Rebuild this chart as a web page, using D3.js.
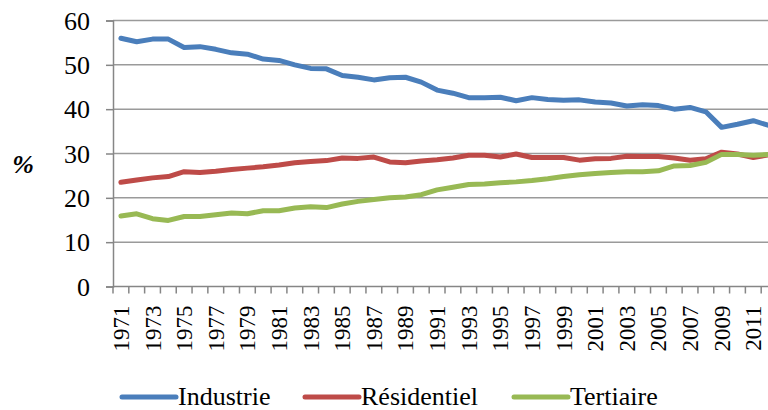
<!DOCTYPE html>
<html><head><meta charset="utf-8">
<script src="https://cdn.jsdelivr.net/npm/d3@7"></script>
</head>
<body style="margin:0">
<script>
const years = d3.range(1971, 2013);
const yTicks = [0, 10, 20, 30, 40, 50, 60];
const seriesNames = ["Industrie", "Résidentiel", "Tertiaire"];
const colors = ["#4A7EBB", "#BE4B48", "#98B954"];
const industrie = [56.0,55.2,55.8,55.8,53.9,54.1,53.5,52.7,52.4,51.3,51.0,50.0,49.2,49.1,47.6,47.2,46.6,47.1,47.2,46.1,44.3,43.6,42.6,42.6,42.7,41.9,42.6,42.2,42.0,42.1,41.6,41.4,40.7,41.0,40.8,40.0,40.4,39.4,35.9,36.6,37.4,36.3];
const residentiel = [23.5,24.0,24.5,24.8,25.9,25.7,26.0,26.4,26.7,27.0,27.4,27.9,28.2,28.4,29.0,28.9,29.2,28.1,27.9,28.3,28.6,29.0,29.6,29.6,29.2,29.9,29.1,29.1,29.1,28.5,28.8,28.9,29.4,29.3,29.3,29.0,28.5,28.8,30.3,29.9,29.1,29.7];
const tertiaire = [15.9,16.4,15.3,14.9,15.8,15.8,16.2,16.6,16.4,17.1,17.1,17.7,18.0,17.8,18.6,19.2,19.6,20.0,20.2,20.7,21.8,22.4,23.0,23.1,23.4,23.6,23.9,24.3,24.8,25.2,25.5,25.7,25.9,25.9,26.1,27.2,27.3,28.0,29.8,29.8,29.6,29.8];
const allSeries = [industrie, residentiel, tertiaire];

const W = 768, H = 410;
const svg = d3.select("body").append("svg").attr("width", W).attr("height", H)
  .style("display", "block");
const ff = () => "'Liberation Serif'";

const x = d3.scaleBand().domain(years).range([113, 777]);
const y = d3.scaleLinear().domain([0, 60]).range([286.5, 20.5]);

// gridlines
svg.append("g").selectAll("line").data(yTicks.filter(t => t > 0)).join("line")
  .attr("x1", 113).attr("x2", W).attr("y1", d => y(d)).attr("y2", d => y(d))
  .attr("stroke", "#9a9a9a").attr("stroke-width", 1.5);

// y axis line and ticks via d3 axis (labels drawn separately)
const yAxis = svg.append("g").attr("transform", "translate(113,0)")
  .call(d3.axisLeft(y).tickValues(yTicks).tickSize(7).tickFormat(""));
yAxis.select(".domain").attr("stroke", "#868686").attr("stroke-width", 1.5);
yAxis.selectAll(".tick line").attr("stroke", "#868686").attr("stroke-width", 1.5);
svg.append("g").selectAll("text").data(yTicks).join("text")
  .attr("x", 90).attr("y", d => y(d) + 9).attr("text-anchor", "end")
  .attr("font-size", 26).style("font-family", ff).text(d => d);

// x axis line
svg.append("line").attr("x1", 113).attr("x2", W).attr("y1", y(0)).attr("y2", y(0))
  .attr("stroke", "#868686").attr("stroke-width", 1.5);
// x ticks at category boundaries
svg.append("g").selectAll("line").data(years.concat([2013])).join("line")
  .attr("x1", d => d === 2013 ? x.range()[1] : x(d))
  .attr("x2", d => d === 2013 ? x.range()[1] : x(d))
  .attr("y1", y(0)).attr("y2", y(0) + 7)
  .attr("stroke", "#868686").attr("stroke-width", 1.5);
// x labels (every other)
svg.append("g").selectAll("text").data(years.filter((d, i) => i % 2 === 0)).join("text")
  .attr("transform", d => `translate(${x(d) + x.bandwidth() / 2 + 8},${y(0) + 19}) rotate(-90)`)
  .attr("text-anchor", "end").attr("font-size", 23).style("font-family", ff).text(d => d);

// % label
svg.append("text").attr("x", 23).attr("y", 173).attr("text-anchor", "middle").style("font-family", ff)
  .attr("font-size", 26).style("font-style", "italic").style("font-weight", "bold").text("%");

// series lines
const line = d3.line().x((d, i) => x(years[i]) + x.bandwidth() / 2).y(d => y(d));
svg.append("g").selectAll("path").data(allSeries).join("path")
  .attr("d", d => line(d)).attr("fill", "none")
  .attr("stroke", (d, i) => colors[i]).attr("stroke-width", 5)
  .attr("stroke-linejoin", "round").attr("stroke-linecap", "round");

// legend
const legX = [122, 305, 514];
const leg = svg.append("g").selectAll("g").data(seriesNames).join("g")
  .attr("transform", (d, i) => `translate(${legX[i]},397)`);
leg.append("line").attr("x1", 0).attr("x2", 54).attr("y1", 0).attr("y2", 0)
  .attr("stroke", (d, i) => colors[i]).attr("stroke-width", 5).attr("stroke-linecap", "round");
leg.append("text").attr("x", 56).attr("y", 8).attr("font-size", 26).style("font-family", ff).text(d => d);
</script>
</body></html>
